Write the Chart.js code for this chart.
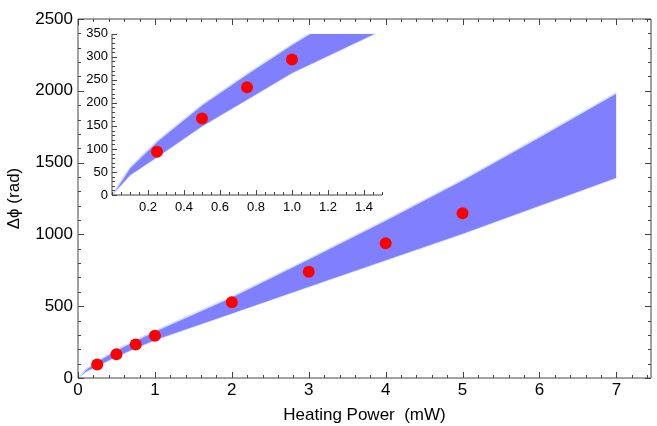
<!DOCTYPE html>
<html>
<head>
<meta charset="utf-8">
<script src="https://cdn.jsdelivr.net/npm/chart.js@4.4.0/dist/chart.umd.min.js"></script>
<style>
  body { margin: 0; background: #fff; }
  #wrap { position: relative; width: 657px; height: 426px; }
  #mainChart { position: absolute; left: 0; top: 0; }
  #insetChart { position: absolute; left: 70px; top: 22px; }
</style>
</head>
<body>
<div id="wrap">
  <canvas id="mainChart" width="657" height="426"></canvas>
  <canvas id="insetChart" width="320" height="200"></canvas>
</div>
<script>
// measured phase shift vs heating power
const powers = [0.25, 0.5, 0.75, 1, 2, 3, 4, 5];
const phaseShift = [94, 166, 234, 294, 527, 740, 938, 1147];

// model band (upper / lower bound)
const bandPower = [0, 0.1, 0.25, 0.5, 0.75, 1, 2, 3, 4, 5, 6, 7];
const bandUpper = [0, 60, 117, 196, 263, 327, 566, 830, 1100, 1380, 1680, 1985];
const bandLower = [0, 43, 82, 149, 207, 265, 450, 636, 820, 1005, 1200, 1395];

const mainXTicks = [0, 1, 2, 3, 4, 5, 6, 7];
const mainYTicks = [0, 500, 1000, 1500, 2000, 2500];
const insetXTicks = [0.2, 0.4, 0.6, 0.8, 1.0, 1.2, 1.4];
const insetYTicks = [0, 50, 100, 150, 200, 250, 300, 350];

const FONT = "'Liberation Sans', Arial, sans-serif";
const AXIS_COLOR = "#444";

function pts(xs, ys) {
    return xs.map((x, i) => ({ x: x, y: ys[i] }));
}

function steps(from, to, step) {
    const out = [];
    for (let v = from; v <= to + 1e-9; v += step) out.push(+v.toFixed(4));
    return out;
}

function bandDatasets() {
    return [
        {
            type: "scatter",
            data: pts(powers, phaseShift),
            backgroundColor: "#ff0000",
            borderWidth: 0,
            pointRadius: 6,
            pointHoverRadius: 6,
            order: 0
        },
        {
            type: "line",
            data: pts(bandPower, bandUpper),
            borderColor: "#cfe0ff",
            borderWidth: 1.5,
            backgroundColor: "#8080ff",
            pointRadius: 0,
            fill: "+1",
            tension: 0,
            order: 1
        },
        {
            type: "line",
            data: pts(bandPower, bandLower),
            borderColor: "#cfe0ff",
            borderWidth: 1.5,
            pointRadius: 0,
            fill: false,
            tension: 0,
            order: 2
        }
    ];
}

// inward ticks + frame, drawn from the chart's own scales
const tickFrame = {
    id: "tickFrame",
    afterDraw(chart, args, o) {
        const c = chart.ctx;
        const a = chart.chartArea;
        const xs = chart.scales.x, ys = chart.scales.y;
        c.save();
        c.strokeStyle = AXIS_COLOR;
        c.lineWidth = 1;
        c.beginPath();
        c.moveTo(a.left, a.top);
        c.lineTo(a.left, a.bottom);
        c.lineTo(a.right, a.bottom);
        if (o.full) {
            c.lineTo(a.right, a.top);
            c.lineTo(a.left, a.top);
        }
        c.stroke();
        c.beginPath();
        const tx = (vals, len) => vals.forEach(v => {
            if (v < xs.min || v > xs.max) return;
            const p = Math.round(xs.getPixelForValue(v)) + 0.5;
            c.moveTo(p, a.bottom); c.lineTo(p, a.bottom - len);
            if (o.full) { c.moveTo(p, a.top); c.lineTo(p, a.top + len); }
        });
        const ty = (vals, len) => vals.forEach(v => {
            if (v < ys.min || v > ys.max) return;
            const p = Math.round(ys.getPixelForValue(v)) + 0.5;
            c.moveTo(a.left, p); c.lineTo(a.left + len, p);
            if (o.full) { c.moveTo(a.right, p); c.lineTo(a.right - len, p); }
        });
        tx(o.xMajor, o.majorLen); tx(o.xMinor, o.minorLen);
        ty(o.yMajor, o.majorLen); ty(o.yMinor, o.minorLen);
        c.stroke();
        c.restore();
    }
};

new Chart(document.getElementById("mainChart"), {
    data: { datasets: bandDatasets() },
    plugins: [tickFrame],
    options: {
        responsive: false,
        animation: false,
        layout: { padding: { top: 19, right: 1, left: 0, bottom: 0 } },
        plugins: {
            legend: { display: false },
            tooltip: { enabled: false },
            tickFrame: {
                full: true,
                majorLen: 6, minorLen: 3,
                xMajor: mainXTicks, xMinor: steps(0, 7.4, 0.2),
                yMajor: mainYTicks, yMinor: steps(0, 2500, 100)
            }
        },
        scales: {
            x: {
                type: "linear",
                min: 0, max: 7.45,
                afterBuildTicks: s => { s.ticks = mainXTicks.map(v => ({ value: v })); },
                afterFit: s => { s.height = 48; },
                grid: { display: false, drawTicks: false },
                border: { display: false },
                ticks: {
                    color: "#000", padding: 2, font: { family: FONT, size: 17 },
                    callback: v => String(v)
                },
                title: {
                    display: true, text: "Heating Power  (mW)", color: "#000",
                    padding: { top: 0, bottom: 0 }, font: { family: FONT, size: 17 }
                }
            },
            y: {
                type: "linear",
                min: 0, max: 2500,
                afterBuildTicks: s => { s.ticks = mainYTicks.map(v => ({ value: v })); },
                afterFit: s => { s.width = 78; },
                grid: { display: false, drawTicks: false },
                border: { display: false },
                ticks: {
                    color: "#000", padding: 5, font: { family: FONT, size: 17 },
                    callback: v => String(v)
                },
                title: {
                    display: true, text: "Δϕ (rad)", color: "#000",
                    padding: { top: 4, bottom: 0 }, font: { family: FONT, size: 17 }
                }
            }
        }
    }
});

new Chart(document.getElementById("insetChart"), {
    data: { datasets: bandDatasets() },
    plugins: [tickFrame],
    options: {
        responsive: false,
        animation: false,
        layout: { padding: { top: 9, right: 8, left: 0, bottom: 0 } },
        plugins: {
            legend: { display: false },
            tooltip: { enabled: false },
            tickFrame: {
                full: false,
                majorLen: 5, minorLen: 3,
                xMajor: insetXTicks, xMinor: steps(0, 1.5, 0.05),
                yMajor: insetYTicks, yMinor: steps(0, 350, 10)
            }
        },
        scales: {
            x: {
                type: "linear",
                min: 0, max: 1.5,
                afterBuildTicks: s => { s.ticks = insetXTicks.map(v => ({ value: v })); },
                afterFit: s => { s.height = 27; },
                grid: { display: false, drawTicks: false },
                border: { display: false },
                ticks: {
                    color: "#000", padding: 5, font: { family: FONT, size: 13 },
                    callback: v => v.toFixed(1)
                }
            },
            y: {
                type: "linear",
                min: 0, max: 350,
                afterBuildTicks: s => { s.ticks = insetYTicks.map(v => ({ value: v })); },
                afterFit: s => { s.width = 42; },
                grid: { display: false, drawTicks: false },
                border: { display: false },
                ticks: {
                    color: "#000", padding: 4, font: { family: FONT, size: 13 },
                    callback: v => String(v)
                }
            }
        }
    }
});
</script>
</body>
</html>
